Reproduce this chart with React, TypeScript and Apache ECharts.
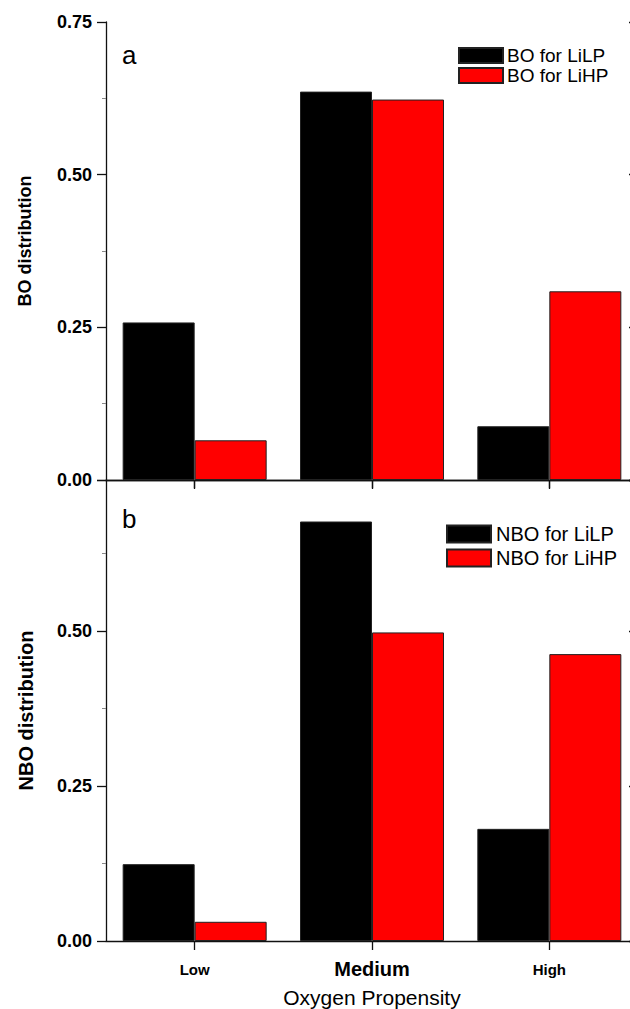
import React, { useEffect, useRef } from "react";
import * as echarts from "echarts";

const categories = ["Low", "Medium", "High"];
const boLiLP = [0.258, 0.636, 0.088];
const boLiHP = [0.065, 0.623, 0.309];
const nboLiLP = [0.124, 0.677, 0.181];
const nboLiHP = [0.031, 0.498, 0.463];
const seriesNames = ["BO for LiLP", "BO for LiHP", "NBO for LiLP", "NBO for LiHP"];
const panelLetters = ["a", "b"];

const FONT = "Liberation Sans";

export default function App() {
  const ref = useRef<HTMLDivElement>(null);
  useEffect(() => {
    if (!ref.current) return;
    const chart = echarts.init(ref.current, null, { renderer: "svg" });
    const line = { show: true, lineStyle: { color: "#111", width: 1.3 } };
    const tickLabel = {
      fontFamily: FONT,
      fontWeight: "bold" as const,
      fontSize: 18,
      color: "#000",
      margin: 14,
      formatter: (v: number) => v.toFixed(2),
    };
    const barStyle = (c: string) => ({ color: c, borderColor: "#222", borderWidth: 1 });
    const option: any = {
      animation: false,
      backgroundColor: "#fff",
      grid: [
        { left: 106, top: 22, width: 532, height: 458 },
        { left: 106, top: 480, width: 532, height: 461 },
      ],
      xAxis: [
        {
          type: "category", gridIndex: 0, data: categories, position: "bottom",
          axisLine: line,
          axisTick: { show: true, alignWithLabel: true, length: 9, lineStyle: { color: "#111", width: 1.3 } },
          axisLabel: { show: false },
        },
        {
          type: "category", gridIndex: 0, data: categories, position: "top",
          axisLine: line,
          axisTick: { show: true, inside: true, alignWithLabel: true, length: 8, lineStyle: { color: "#111", width: 1.3 } },
          axisLabel: { show: false },
        },
        {
          type: "category", gridIndex: 1, data: categories, position: "bottom",
          axisLine: line,
          axisTick: { show: true, alignWithLabel: true, length: 9, lineStyle: { color: "#111", width: 1.3 } },
          axisLabel: {
            margin: 17,
            formatter: (v: string) => (v === "Medium" ? `{m|${v}}` : `{s|${v}}`),
            rich: {
              m: { fontFamily: FONT, fontWeight: "bold", fontSize: 20, color: "#000", lineHeight: 22 },
              s: { fontFamily: FONT, fontWeight: "bold", fontSize: 15, color: "#000", lineHeight: 22 },
            },
          },
          name: "Oxygen Propensity",
          nameLocation: "middle",
          nameGap: 46,
          nameTextStyle: { fontFamily: FONT, fontSize: 21, color: "#000" },
        },
      ],
      yAxis: [
        {
          type: "value", gridIndex: 0, min: 0, max: 0.75, interval: 0.25,
          axisLine: line,
          axisTick: { show: true, length: 9, lineStyle: { color: "#111", width: 1.3 } },
          minorTick: { show: true, splitNumber: 2, length: 4, lineStyle: { color: "#888" } },
          splitLine: { show: false },
          axisLabel: tickLabel,
          name: "BO distribution", nameLocation: "middle", nameGap: 72,
          nameTextStyle: { fontFamily: FONT, fontWeight: "bold", fontSize: 18, color: "#000", padding: [0, 0, 0, 20] },
        },
        {
          type: "value", gridIndex: 0, position: "right", min: 0, max: 0.75, interval: 0.25,
          axisLine: line,
          axisTick: { show: true, inside: true, length: 9, lineStyle: { color: "#111", width: 1.3 } },
          splitLine: { show: false },
          axisLabel: { show: false },
        },
        {
          type: "value", gridIndex: 1, min: 0, max: 0.744, interval: 0.25,
          axisLine: line,
          axisTick: { show: true, length: 9, lineStyle: { color: "#111", width: 1.3 } },
          minorTick: { show: true, splitNumber: 2, length: 4, lineStyle: { color: "#888" } },
          splitLine: { show: false },
          axisLabel: { ...tickLabel, showMaxLabel: false },
          name: "NBO distribution", nameLocation: "middle", nameGap: 70,
          nameTextStyle: { fontFamily: FONT, fontWeight: "bold", fontSize: 20, color: "#000" },
        },
        {
          type: "value", gridIndex: 1, position: "right", min: 0, max: 0.744, interval: 0.25,
          axisLine: line,
          axisTick: { show: true, inside: true, length: 9, lineStyle: { color: "#111", width: 1.3 } },
          splitLine: { show: false },
          axisLabel: { show: false },
        },
      ],
      legend: [
        {
          data: [seriesNames[0], seriesNames[1]],
          orient: "vertical", left: 458, top: 46, padding: 0,
          itemWidth: 44, itemHeight: 15, itemGap: 1, icon: "rect",
          textStyle: { fontFamily: FONT, fontSize: 19, color: "#000", padding: [0, 0, 0, -1] },
        },
        {
          data: [seriesNames[2], seriesNames[3]],
          orient: "vertical", left: 446, top: 524, padding: 0,
          itemWidth: 44, itemHeight: 17, itemGap: 4, icon: "rect",
          textStyle: { fontFamily: FONT, fontSize: 20, color: "#000", padding: [0, 0, 0, 0] },
        },
      ],
      graphic: [
        { type: "text", left: 122, top: 42, style: { text: panelLetters[0], fontFamily: FONT, fontSize: 26, fill: "#000" } },
        { type: "text", left: 122, top: 506, style: { text: panelLetters[1], fontFamily: FONT, fontSize: 26, fill: "#000" } },
      ],
      series: [
        { name: seriesNames[0], type: "bar", xAxisIndex: 0, yAxisIndex: 0, data: boLiLP, barWidth: 72, barGap: "0%", itemStyle: barStyle("#000000") },
        { name: seriesNames[1], type: "bar", xAxisIndex: 0, yAxisIndex: 0, data: boLiHP, barWidth: 72, barGap: "0%", itemStyle: barStyle("#ff0000") },
        { name: seriesNames[2], type: "bar", xAxisIndex: 2, yAxisIndex: 2, data: nboLiLP, barWidth: 72, barGap: "0%", itemStyle: barStyle("#000000") },
        { name: seriesNames[3], type: "bar", xAxisIndex: 2, yAxisIndex: 2, data: nboLiHP, barWidth: 72, barGap: "0%", itemStyle: barStyle("#ff0000") },
      ],
    };
    chart.setOption(option);
    return () => chart.dispose();
  }, []);
  return (
    <div style={{ position: "fixed", left: 0, top: 0, width: 630, height: 1009, overflow: "hidden", background: "#fff" }}>
      <div ref={ref} style={{ width: 640, height: 1009 }} />
    </div>
  );
}
